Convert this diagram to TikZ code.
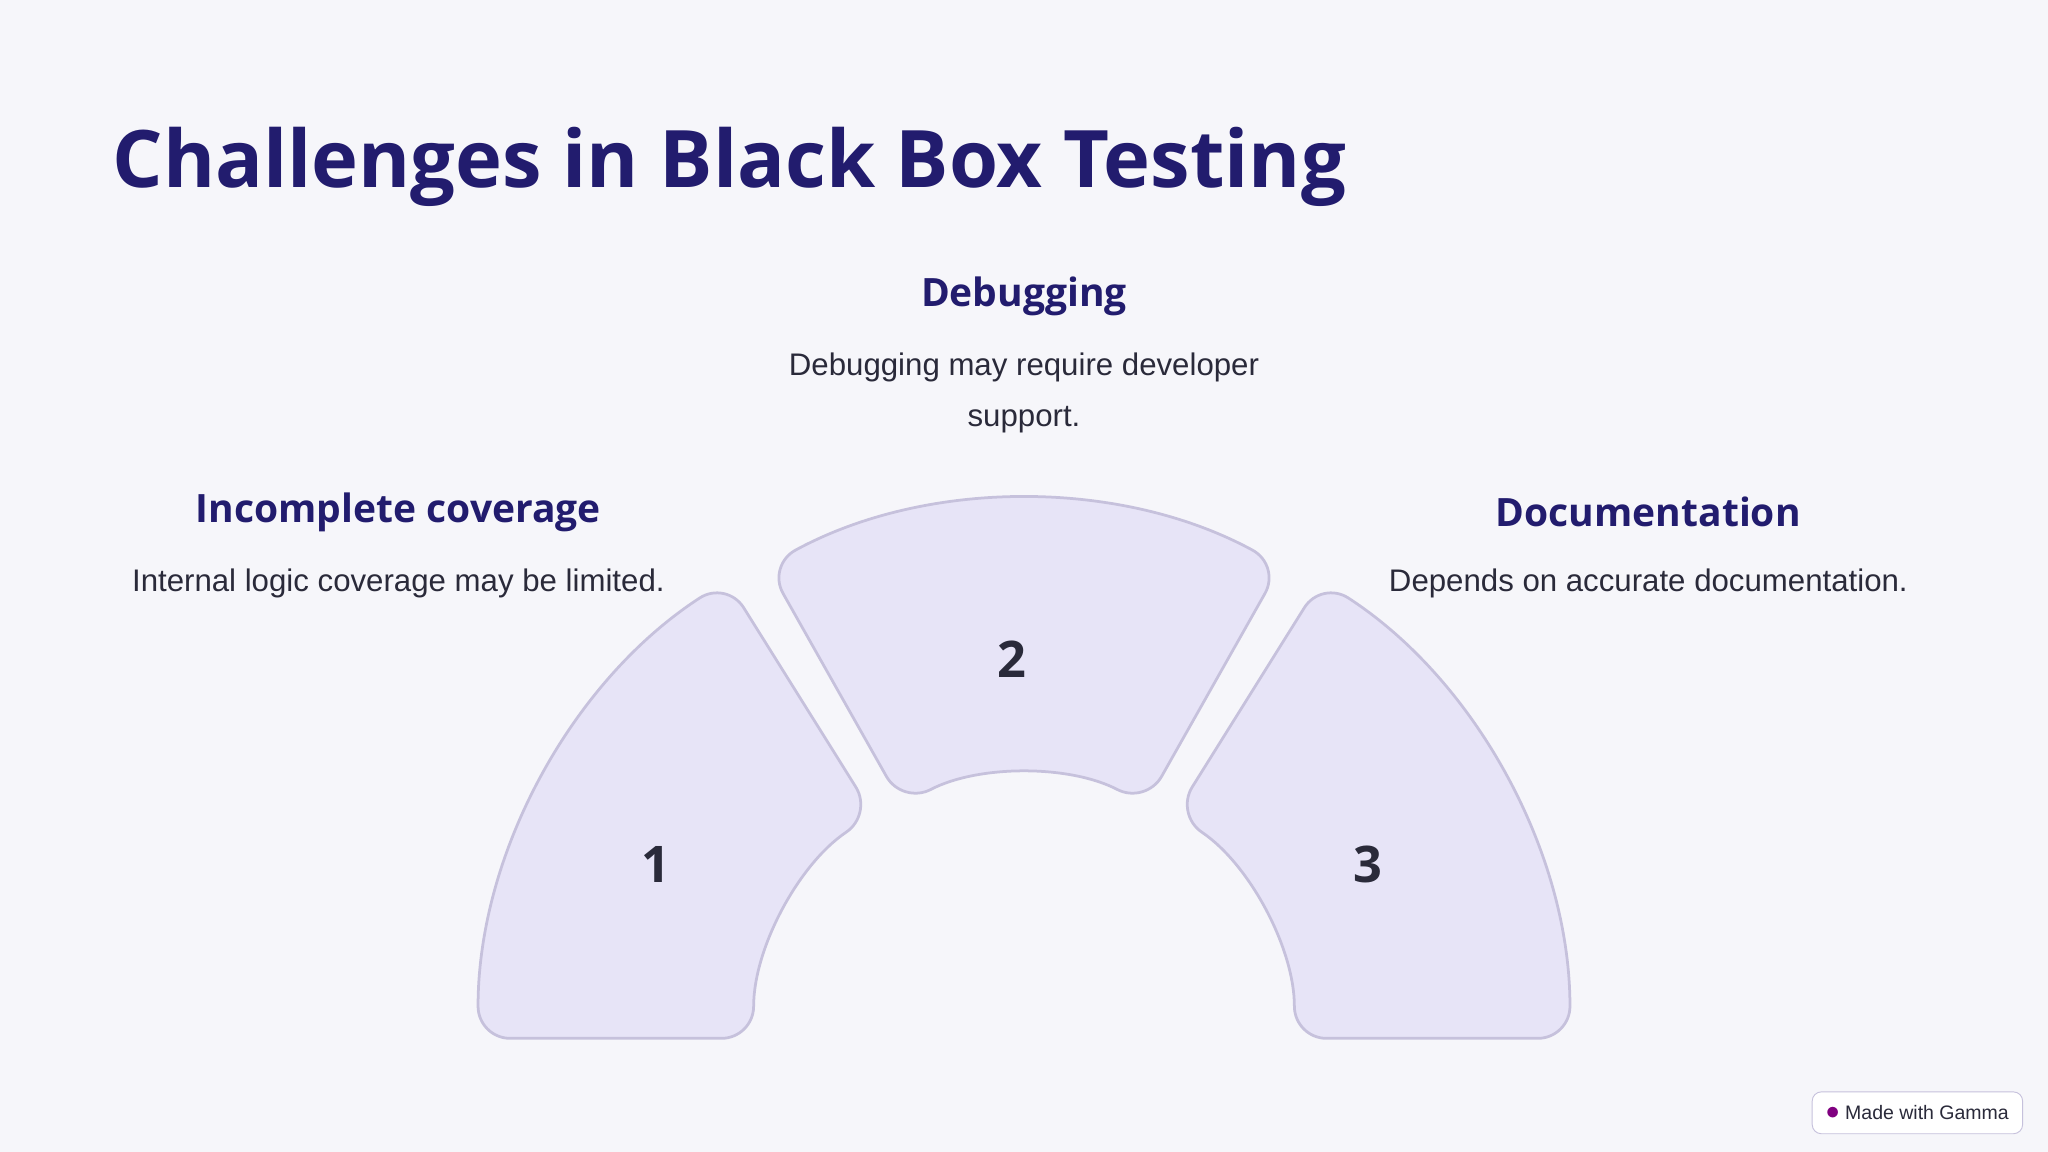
\documentclass[tikz,border=0pt]{standalone}
\usepackage{fontspec}
\setmainfont{Liberation Sans}
\newfontfamily\headfont{Open Sans}
\definecolor{bg}{HTML}{F6F6FA}
\definecolor{navy}{HTML}{221C6E}
\definecolor{segfill}{HTML}{E7E4F7}
\definecolor{segline}{HTML}{C6C1DC}
\definecolor{bodytxt}{HTML}{2A2A3A}
\tikzset{
 seg/.style={fill=segfill,draw=segline,line width=1.2pt,rounded corners=14pt},
 head/.style={font=\headfont\bfseries\fontsize{17}{20}\selectfont,text=navy},
 body/.style={font=\fontsize{13.6}{22}\selectfont,text=bodytxt,align=center},
 num/.style={font=\headfont\bfseries\fontsize{22}{26}\selectfont,text=bodytxt}
}
\begin{document}
\begin{tikzpicture}[x=0.02cm,y=0.02cm]
\fill[bg] (0,0) rectangle (1568,882);
\useasboundingbox (0,0) rectangle (1568,882);
\node[anchor=west,font=\headfont\bfseries\fontsize{34.6}{40}\selectfont,text=navy] (title) at (80,754) {Challenges in Black Box Testing};
\coordinate (c) at (784,87);
\draw[seg] ([shift={(180:418)}]c) arc (180:123:418) -- ([shift={(124:207)}]c) arc (124:180:207) -- cycle;
\draw[seg] ([shift={(118.5:412)}]c) arc (118.5:61.5:412) -- ([shift={(62.5:202)}]c) arc (62.5:117.5:202) -- cycle;
\draw[seg] ([shift={(57:418)}]c) arc (57:0:418) -- ([shift={(0:207)}]c) arc (0:56:207) -- cycle;
\node[num] (n1) at (502,220) {1};
\node[num] (n2) at (775,377) {2};
\node[num] (n3) at (1047,220) {3};
\node[head] (h2) at (784,655) {Debugging};
\node[body] (b2) at (784,581) {Debugging may require developer\\support.};
\node[head] (h1) at (305,490) {Incomplete coverage};
\node[body] (b1) at (305,435) {Internal logic coverage may be limited.};
\node[head] (h3) at (1262,490) {Documentation};
\node[body] (b3) at (1262,435) {Depends on accurate documentation.};
\node[draw=segline,fill=white,rounded corners=4pt,inner sep=6pt,font=\fontsize{8.5}{10}\selectfont,text=bodytxt] (badge) at (1468,30) {\textcolor{violet}{\large$\bullet$}\ Made with Gamma};
\end{tikzpicture}
\end{document}
